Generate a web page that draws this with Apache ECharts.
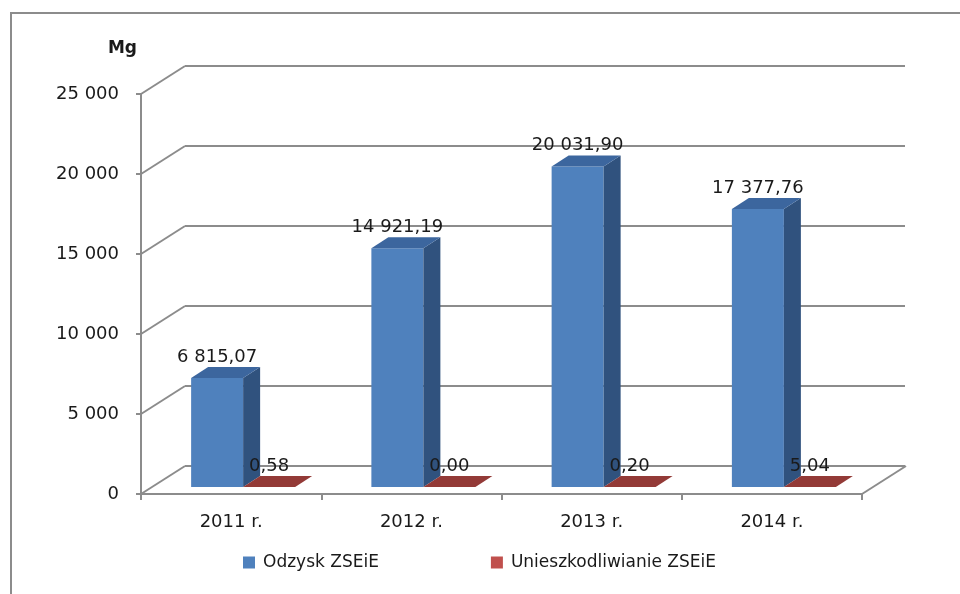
<!DOCTYPE html>
<html>
<head>
<meta charset="utf-8">
<script src="https://cdn.jsdelivr.net/npm/echarts@6/dist/echarts.min.js"></script>
<style>
html,body{margin:0;padding:0;background:#fff;}
#main{width:960px;height:594px;}
</style>
</head>
<body>
<div id="main"></div>
<script>
var years = ['2011 r.', '2012 r.', '2013 r.', '2014 r.'];
var odzysk = [6815.07, 14921.19, 20031.90, 17377.76];
var unieszk = [0.58, 0.00, 0.20, 5.04];
var yTicks = [0, 5000, 10000, 15000, 20000, 25000];

// perspective offsets (px)
var DEPTH_X = 44, DEPTH_Y = -28;     // front plane -> back wall
var SHIFT_X = 12, SHIFT_Y = -7;      // front plane -> bar front face
var BAR_DX = 17, BAR_DY = -11;       // bar depth
var BAR_W = 52;
var FONT = 'DejaVu Sans';

var thousands = function (s) {
    return s.replace(/\B(?=(\d{3})+(?!\d))/g, ' ');
};
var fmt = function (v) {
    var p = v.toFixed(2).split('.');
    return thousands(p[0]) + ',' + p[1];
};

var barSeries = function (name, values, colors, side) {
    var data = [];
    for (var i = 0; i < values.length; i++) {
        data.push([i, values[i]]);
    }
    return {
        name: name,
        type: 'custom',
        xAxisIndex: 0,
        yAxisIndex: 0,
        itemStyle: { color: colors[0] },
        encode: { x: 0, y: 1 },
        data: data,
        z: 5,
        renderItem: function (params, api) {
            var v = api.value(1);
            var top = api.coord([api.value(0), v]);
            var base = api.coord([api.value(0), 0]);
            var x0 = base[0] + SHIFT_X + side * BAR_W;
            var x1 = x0 + BAR_W;
            var y0 = base[1] + SHIFT_Y;
            var y1 = top[1] + SHIFT_Y;
            return {
                type: 'group',
                children: [
                    { type: 'rect', shape: { x: x0, y: y1, width: BAR_W, height: Math.max(y0 - y1, 0) },
                      style: { fill: colors[0] } },
                    { type: 'polygon', shape: { points: [[x1, y1], [x1 + BAR_DX, y1 + BAR_DY], [x1 + BAR_DX, y0 + BAR_DY], [x1, y0]] },
                      style: { fill: colors[1] } },
                    { type: 'polygon', shape: { points: [[x0, y1], [x0 + BAR_DX, y1 + BAR_DY], [x1 + BAR_DX, y1 + BAR_DY], [x1, y1]] },
                      style: { fill: colors[2] } },
                    { type: 'text', z2: 10,
                      style: { text: fmt(v), x: x0 + BAR_W / 2, y: y1 + BAR_DY - 10,
                               align: 'center', verticalAlign: 'middle',
                               font: '18px "' + FONT + '"', fill: '#1a1a1a' } }
                ]
            };
        }
    };
};

var option = {
    backgroundColor: '#fff',
    animation: false,
    graphic: [{
        type: 'rect', z: -10, silent: true,
        shape: { x: 11, y: 13, width: 1000, height: 700 },
        style: { fill: 'none', stroke: '#8c8c8c', lineWidth: 2 }
    }],
    legend: {
        left: 243,
        top: 554,
        padding: 0,
        icon: 'rect',
        itemWidth: 12,
        itemHeight: 12,
        itemGap: 112,
        textStyle: { fontFamily: FONT, fontSize: 17, color: '#1a1a1a', padding: [0, 0, 0, 3] },
        data: ['Odzysk ZSEiE', 'Unieszkodliwianie ZSEiE']
    },
    grid: [
        { left: 141, top: 94, width: 721, height: 400 },
        { left: 185, top: 66, width: 720, height: 400 }
    ],
    xAxis: [{
        gridIndex: 0,
        type: 'category',
        data: years,
        axisLine: { lineStyle: { color: '#8c8c8c', width: 2 } },
        axisTick: { show: true, length: 6, lineStyle: { color: '#8c8c8c', width: 2 } },
        axisLabel: { fontFamily: FONT, fontSize: 18, color: '#1a1a1a', margin: 19 }
    }, {
        gridIndex: 1,
        type: 'category',
        data: years,
        show: false
    }],
    yAxis: [{
        gridIndex: 0,
        type: 'value',
        min: 0,
        max: 25000,
        interval: 5000,
        name: 'Mg',
        nameLocation: 'end',
        nameGap: 37,
        nameTextStyle: { fontFamily: FONT, fontSize: 17, fontWeight: 'bold', color: '#1a1a1a', align: 'right', padding: [0, 4, 0, 0] },
        axisLine: { show: true, lineStyle: { color: '#8c8c8c', width: 2 } },
        axisTick: { show: true, length: 5, lineStyle: { color: '#8c8c8c', width: 2 } },
        axisLabel: {
            fontFamily: FONT, fontSize: 18, color: '#1a1a1a', margin: 22,
            formatter: function (v) { return thousands(String(v)); }
        },
        splitLine: { show: false }
    }, {
        gridIndex: 1,
        type: 'value',
        min: 0,
        max: 25000,
        interval: 5000,
        axisLine: { show: false },
        axisTick: { show: false },
        axisLabel: { show: false },
        splitLine: { show: true, lineStyle: { color: '#8c8c8c', width: 2 } }
    }],
    series: [
        {
            name: 'diagonals',
            type: 'custom',
            silent: true,
            xAxisIndex: 0,
            yAxisIndex: 0,
            encode: { x: 0, y: 1 },
            data: yTicks.map(function (v) { return [0, v]; }),
            renderItem: function (params, api) {
                var cs = params.coordSys;
                var y = api.coord([0, api.value(1)])[1];
                var ls = { stroke: '#8c8c8c', lineWidth: 2 };
                var children = [{ type: 'line', shape: { x1: cs.x, y1: y, x2: cs.x + DEPTH_X, y2: y + DEPTH_Y }, style: ls }];
                if (api.value(1) === 0) {
                    var xr = cs.x + cs.width;
                    children.push({ type: 'line', shape: { x1: xr, y1: y, x2: xr + DEPTH_X, y2: y + DEPTH_Y }, style: ls });
                }
                return { type: 'group', children: children };
            }
        },
        barSeries('Odzysk ZSEiE', odzysk, ['#4f81bd', '#30527e', '#3c669e'], -1),
        barSeries('Unieszkodliwianie ZSEiE', unieszk, ['#c0504d', '#7e302e', '#933a37'], 0)
    ]
};

var chart = echarts.init(document.getElementById('main'));
chart.setOption(option);
</script>
</body>
</html>
